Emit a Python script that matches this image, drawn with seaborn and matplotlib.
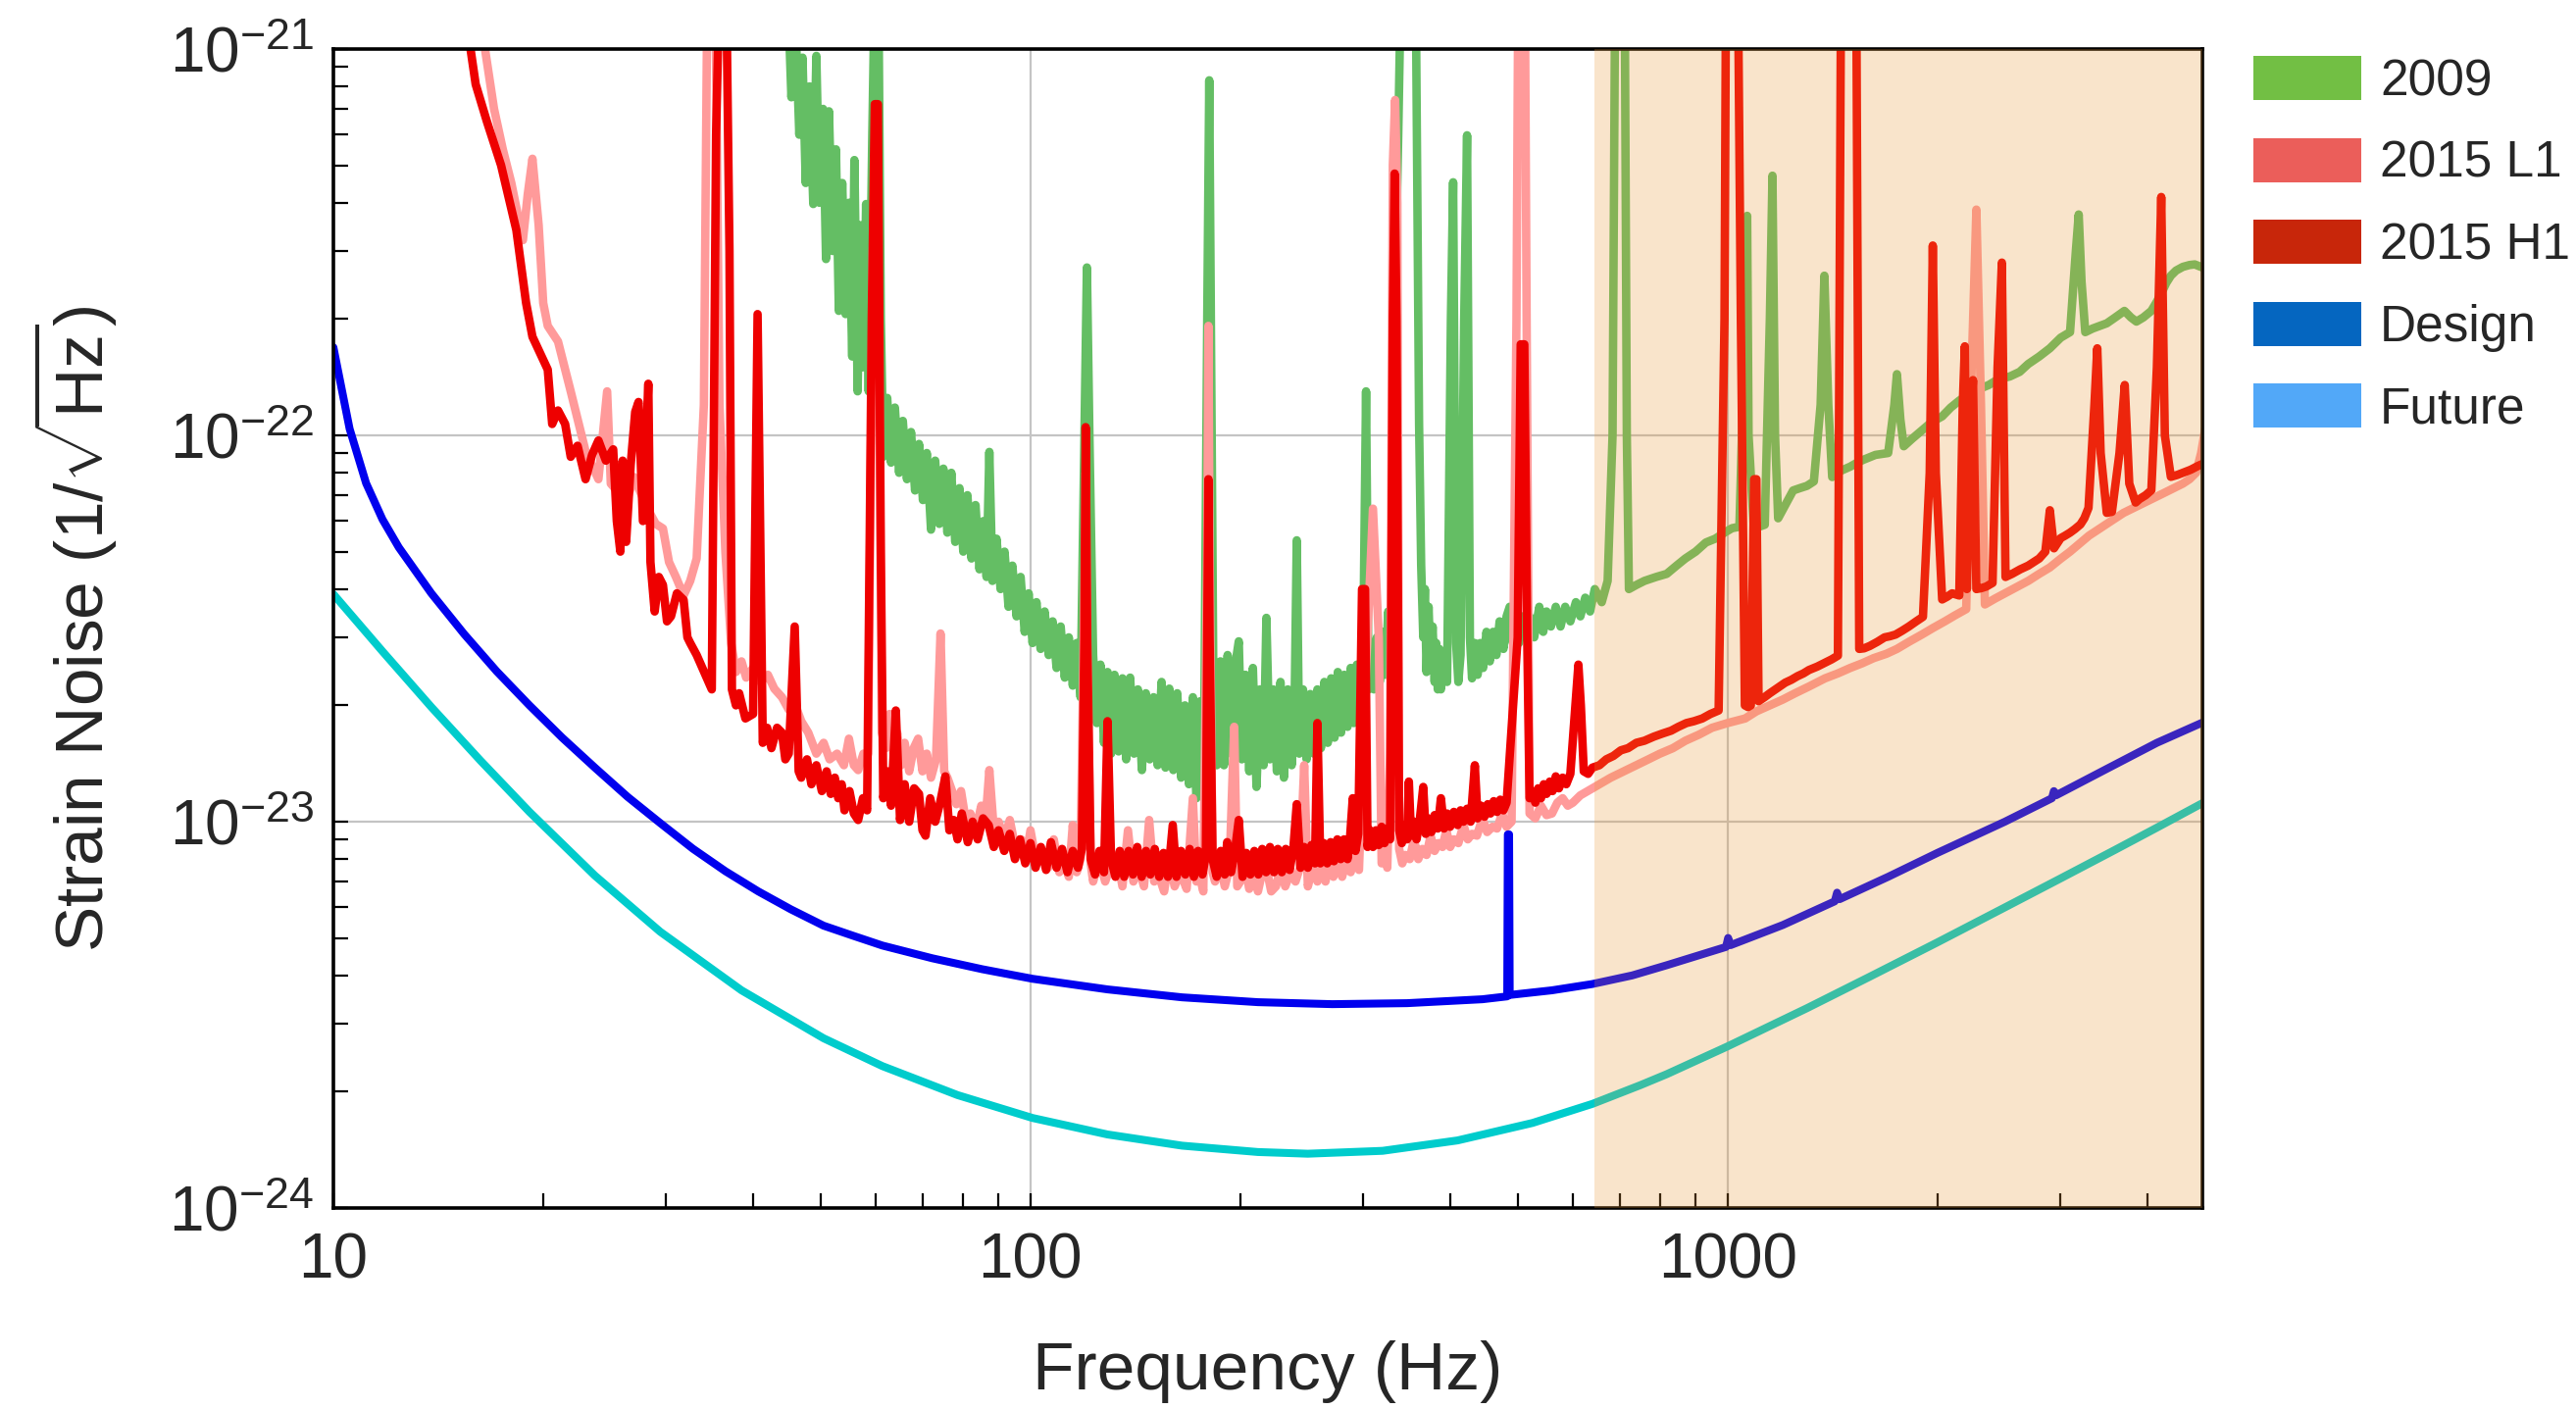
import numpy as np
import pandas as pd
import matplotlib
matplotlib.use("Agg")
import matplotlib.pyplot as plt
import seaborn as sns
from matplotlib.patches import Patch
from matplotlib.ticker import LogLocator, NullFormatter, FixedLocator, FixedFormatter

# strain values below are in units of 1e-23 / sqrt(Hz)
STRAIN_UNIT = 1e-23

# (frequency Hz, strain)
s6_2009 = [
    (43.5, 150), (44.2, 110), (44.8, 150), (45.4, 75), (46.0, 120), (46.6, 60), (47.1, 95),
    (47.6, 45), (48.2, 80), (48.8, 39.7), (49.3, 96), (49.8, 40), (50.4, 70), (50.9, 28.6),
    (51.4, 69), (52.0, 30), (52.6, 55), (53.1, 21), (53.7, 45), (54.3, 20.6), (54.9, 40),
    (55.5, 16), (55.9, 51.6), (56.5, 13.0), (57.0, 35), (57.6, 15), (58.1, 39.7), (58.6, 13),
    (59.3, 60), (59.8, 150), (60.5, 150), (61.0, 20),
    (61.5, 8.8), (62.3, 12.5), (63.1, 8.5), (63.9, 11.8), (64.8, 8.0), (65.6, 10.9),
    (66.5, 7.7), (67.4, 10.2), (68.3, 7.2), (69.2, 9.5), (70.1, 6.8), (71.0, 9.0), (72.0, 5.7),
    (73.0, 8.6), (74.0, 5.9), (75.0, 8.2), (76.0, 5.6), (77.0, 8.0), (78.0, 5.3), (79.1, 7.3),
    (80.1, 5.0), (81.2, 7.0), (82.3, 4.8), (83.4, 6.6), (84.5, 4.5), (85.6, 6.0), (86.5, 4.3),
    (87.3, 9.06), (88.2, 4.2), (89.4, 5.4), (90.6, 4.0), (91.8, 5.0), (93.0, 3.6), (94.2, 4.6),
    (95.5, 3.4), (96.8, 4.3), (98.1, 3.1), (99.4, 3.9), (100.7, 2.9), (102, 3.7), (103.4, 2.8),
    (104.8, 3.5), (106.2, 2.7), (107.6, 3.3), (109, 2.5), (110.5, 3.2), (112, 2.36),
    (113.5, 3.0), (115, 2.25), (116.5, 2.9), (118, 2.1), (119.5, 10), (120.5, 27.2),
    (121.5, 10), (123, 2.7), (124.5, 1.8), (126, 2.55), (127.5, 1.6), (129, 2.44), (130.5, 1.5),
    (132, 2.4), (133.8, 1.52), (135.5, 2.35), (137.2, 1.45), (139, 2.36), (140.8, 1.5),
    (142.6, 2.2), (144.5, 1.36), (146.4, 2.15), (148.3, 1.45), (150.2, 2.1), (152.2, 1.4),
    (154.2, 2.3), (156.2, 1.38), (158.2, 2.21), (160.3, 1.36), (162.4, 2.15), (164.5, 1.3),
    (166.6, 2.0), (168.8, 1.25), (171, 2.1), (173, 1.15), (175.2, 2.05), (177.3, 1.3),
    (179.3, 20), (180.5, 83), (181.5, 20), (183, 2.2), (185, 1.4), (187.3, 2.6), (189.5, 1.4),
    (191.8, 2.7), (194, 1.5), (196.4, 2.5), (199, 2.93), (201, 1.45), (203.5, 2.4), (206, 1.35),
    (208.5, 2.5), (211, 1.23), (213.5, 2.2), (216, 1.4), (218, 3.37), (220.5, 1.45), (223, 2.2),
    (225.7, 1.35), (228.4, 2.3), (231, 1.3), (234, 2.2), (237, 1.4), (239.5, 2.25), (241, 5.35),
    (243, 1.5), (246, 2.2), (249, 1.45), (252, 2.14), (255, 1.5), (258, 2.2), (261, 1.55),
    (264, 2.3), (267, 1.6), (270, 2.35), (273, 1.65), (276, 2.44), (279, 1.7), (282, 2.4),
    (285, 1.76), (288, 2.5), (291, 1.8), (294, 2.55), (297, 1.9), (300, 2.6), (303, 13.0),
    (305.5, 2.2), (308, 2.9), (311, 2.2), (314, 3.0), (317, 2.3), (320, 3.1), (323, 2.4),
    (326, 3.5), (329, 2.6), (332, 15), (337, 60), (340, 150), (357, 150), (361, 10.7),
    (363.5, 4.6), (366, 3.0), (368, 4.0), (370, 2.44), (372.5, 3.6), (375, 2.5), (377.5, 3.2),
    (380, 2.3), (382, 2.9), (384, 2.2), (386, 2.8), (388, 2.2), (392, 2.7), (396, 2.3),
    (401, 20), (404, 45.2), (408, 2.9), (411, 2.3), (414, 2.7), (419, 20), (423, 59.8),
    (427, 3.0), (430, 2.35), (434, 2.9), (438, 2.4), (442, 2.9), (446, 2.5), (451, 3.1),
    (456, 2.6), (461, 3.1), (466, 2.7), (471, 3.3), (477, 2.8), (482, 3.4), (487, 3.6),
    (492, 2.9), (497, 3.3), (502, 2.9), (508, 3.4), (514, 3.0), (520, 3.4), (528, 3.0),
    (537, 3.6), (544, 3.1), (550, 3.5), (558, 3.2), (567, 3.6), (576, 3.2), (585, 3.6),
    (595, 3.3), (606, 3.7), (615, 3.4), (625, 3.8), (635, 3.5), (645, 4.0), (660, 3.7),
    (673, 4.2), (684, 10), (690, 150), (712, 150), (717, 10), (722, 4.0), (740, 4.1),
    (760, 4.2), (790, 4.3), (818, 4.38), (845, 4.6), (870, 4.8), (900, 5.0), (931, 5.28),
    (960, 5.4), (990, 5.6), (1015, 5.75), (1040, 5.8), (1060, 20), (1067, 37), (1072, 10),
    (1090, 5.9), (1110, 5.8), (1131, 5.87), (1150, 20), (1160, 47), (1170, 10), (1182, 6.1),
    (1210, 6.6), (1242, 7.2), (1270, 7.3), (1300, 7.4), (1330, 7.6), (1360, 12), (1377, 25.9),
    (1395, 12), (1413, 7.8), (1455, 8.1), (1500, 8.3), (1535, 8.5), (1570, 8.66), (1630, 8.9),
    (1700, 9.0), (1735, 12), (1750, 14.4), (1770, 11), (1790, 9.37), (1840, 9.8), (1900, 10.3),
    (1960, 10.8), (2032, 11.2), (2090, 11.8), (2150, 12.3), (2220, 12.8), (2300, 13.2),
    (2370, 13.5), (2450, 14.0), (2540, 14.2), (2625, 14.6), (2700, 15.3), (2800, 16.0),
    (2900, 16.8), (3006, 17.9), (3100, 18.5), (3160, 30), (3190, 37.3), (3220, 25),
    (3260, 18.5), (3340, 18.9), (3420, 19.2), (3500, 19.5), (3600, 20.2), (3710, 21.0),
    (3790, 20.2), (3860, 19.7), (3950, 20.2), (4055, 21.0), (4130, 22.2), (4200, 23.5),
    (4260, 24.8), (4325, 25.9), (4400, 26.7), (4500, 27.3), (4600, 27.6), (4680, 27.7),
    (4850, 27.0),
]

l1_2015 = [
    (16.0, 150), (16.5, 100), (17.0, 70), (17.5, 55), (18.0, 45), (18.7, 32), (19.0, 42),
    (19.3, 52), (19.7, 35), (20.0, 22), (20.3, 19.2), (21.0, 17.5), (21.9, 13.0), (23.0, 9.1),
    (24.0, 7.7), (24.7, 13.0), (25.0, 7.5), (25.5, 7.2), (26.0, 8.0), (26.5, 7.0), (27.0, 7.8),
    (27.5, 7.2), (28.3, 6.4), (29.0, 5.9), (29.7, 5.74), (30.3, 4.7), (31.0, 4.3), (31.8, 3.85),
    (32.5, 4.2), (33.2, 4.8), (34.0, 12), (34.4, 150), (35.3, 150), (35.8, 12), (36.5, 5),
    (37.2, 2.9), (37.8, 2.44), (38.5, 2.6), (39.1, 2.36), (40.0, 2.5), (41.0, 2.3),
    (42.0, 2.4), (42.9, 2.21), (44.0, 2.1), (45.0, 1.95), (46.0, 2.0), (46.9, 1.82),
    (48.0, 1.7), (49.3, 1.5), (50.5, 1.6), (51.5, 1.45), (52.8, 1.5), (54.0, 1.4), (54.9, 1.64),
    (55.8, 1.4), (56.6, 1.36), (57.6, 1.5), (58.5, 1.5), (59.4, 30), (60.0, 50), (60.6, 20),
    (61.2, 1.7), (62.0, 1.55), (62.8, 1.9), (63.6, 1.5), (64.4, 1.7), (65.2, 1.4), (66.0, 1.6),
    (67.0, 1.35), (68.0, 1.55), (69.0, 1.64), (70.0, 1.35), (71.0, 1.5), (72.0, 1.3),
    (73.2, 1.45), (74.3, 3.07), (75.2, 1.35), (76.0, 1.3), (77.2, 1.2), (78.3, 1.11),
    (79.5, 1.2), (80.8, 1.0), (82.0, 1.05), (83.5, 0.95), (85.0, 1.1), (86.2, 1.0),
    (87.3, 1.36), (88.6, 0.95), (90.0, 1.0), (91.7, 0.9), (93.4, 1.01), (95.2, 0.85),
    (97.0, 0.9), (98.5, 0.8), (100, 0.95), (102, 0.78), (104, 0.82), (106, 0.76), (108, 0.9),
    (110, 0.74), (112, 0.78), (113.5, 0.72), (115, 0.98), (116.5, 0.74), (118, 0.8),
    (119.5, 4), (120, 8), (120.6, 3), (122, 0.78), (123, 0.7), (125.5, 0.8), (128, 0.7),
    (130.5, 0.78), (133, 0.82), (135.5, 0.68), (138, 0.95), (140.5, 0.7), (143, 0.76),
    (145.5, 0.68), (148, 1.01), (150.5, 0.7), (153, 0.72), (155.5, 0.66), (158, 0.8),
    (161, 0.68), (164, 0.74), (167.5, 0.67), (171, 1.15), (173, 0.7), (175, 0.72), (177, 0.66),
    (179.3, 5), (180, 19.2), (180.7, 5), (182.5, 0.74), (184, 0.7), (187, 0.78), (190, 0.68),
    (193, 0.76), (196, 1.76), (198, 0.68), (200, 0.7), (203, 0.78), (206, 0.67), (209, 0.75),
    (212, 0.66), (215, 0.74), (218, 0.76), (221.5, 0.66), (225, 0.68), (228.5, 0.76),
    (232, 0.68), (236, 0.74), (240, 0.7), (243.5, 0.76), (247, 1.4), (250, 0.68), (252, 0.72),
    (255, 0.8), (258, 0.7), (261.5, 0.78), (265, 0.7), (268.5, 0.8), (272, 0.72), (276, 0.78),
    (280, 0.72), (284, 0.8), (288, 0.74), (292, 0.82), (296, 0.75), (303, 2.5), (310, 6.46),
    (316, 3), (319, 0.78), (322, 0.82), (325, 0.76), (328, 1.5), (331, 50), (333.5, 73.8),
    (336, 40), (338, 0.85), (341.5, 0.78), (345, 0.82), (350, 0.8), (355, 0.9), (360, 0.8),
    (365, 0.85), (370, 0.82), (375, 0.92), (380, 0.84), (385, 0.88), (390, 0.86),
    (395, 0.95), (400, 0.86), (405, 0.9), (411, 0.88), (418, 0.98), (424, 0.9), (430, 0.93),
    (437, 0.92), (445, 1.02), (452, 0.94), (460, 0.97), (467, 0.96), (475, 1.05), (482, 0.97),
    (490, 1.0), (498, 20), (501, 150), (512, 150), (515, 20), (520, 1.05), (530, 1.02),
    (540, 1.1), (550, 1.04), (560, 1.05), (570, 1.12), (580, 1.15), (590, 1.1), (600, 1.12),
    (615, 1.17), (630, 1.2), (655, 1.25), (680, 1.3), (710, 1.35), (740, 1.4), (770, 1.45),
    (800, 1.5), (835, 1.55), (870, 1.62), (910, 1.68), (950, 1.75), (1000, 1.8), (1060, 1.85),
    (1100, 1.93), (1150, 2.0), (1200, 2.07), (1250, 2.15), (1310, 2.24), (1380, 2.35),
    (1440, 2.42), (1500, 2.5), (1560, 2.57), (1620, 2.65), (1690, 2.72), (1750, 2.8),
    (1820, 2.92), (1900, 3.05), (1970, 3.17), (2050, 3.3), (2120, 3.42), (2200, 3.55),
    (2240, 15), (2275, 38.4), (2310, 12), (2340, 3.65), (2420, 3.78), (2500, 3.9),
    (2600, 4.05), (2700, 4.2), (2800, 4.38), (2900, 4.55), (3000, 4.78), (3100, 5.0),
    (3200, 5.25), (3300, 5.5), (3400, 5.7), (3500, 5.9), (3600, 6.1), (3700, 6.3),
    (3800, 6.45), (3900, 6.6), (4000, 6.75), (4100, 6.9), (4200, 7.05), (4300, 7.2),
    (4400, 7.35), (4500, 7.5), (4600, 7.7), (4700, 8.0), (4780, 9.0), (4850, 10.5),
]

h1_2015 = [
    (15.5, 120), (16.0, 81), (16.6, 65), (17.4, 50), (18.3, 34), (18.9, 22), (19.3, 18),
    (20.3, 14.8), (20.6, 10.7), (21.0, 11.6), (21.5, 10.7), (21.9, 8.8), (22.4, 9.4),
    (23.0, 7.7), (23.5, 8.9), (24.0, 9.7), (24.6, 8.6), (25.2, 9.2), (25.5, 6.0), (25.8, 5.0),
    (26.0, 8.6), (26.3, 5.3), (26.7, 8.4), (27.1, 11.5), (27.4, 12.2), (27.8, 6.0),
    (28.3, 13.6), (28.5, 4.7), (28.9, 3.5), (29.3, 4.3), (29.7, 4.1), (30.1, 3.3), (30.5, 3.4),
    (31.1, 3.9), (31.8, 3.75), (32.2, 3.0), (32.5, 2.9), (33.2, 2.7), (34.0, 2.45),
    (34.9, 2.2), (35.4, 60), (35.8, 150), (36.6, 150), (37.0, 30), (37.3, 2.2), (37.8, 2.0),
    (38.2, 2.15), (39.0, 1.85), (40.0, 1.9), (40.6, 20.6), (41.3, 1.6), (41.9, 1.75),
    (42.5, 1.55), (43.3, 1.75), (44.0, 1.7), (44.5, 1.45), (45.0, 1.5), (45.9, 3.2),
    (46.5, 1.35), (46.9, 1.3), (47.8, 1.45), (48.5, 1.25), (49.3, 1.4), (50.2, 1.2),
    (51.0, 1.35), (51.7, 1.18), (52.4, 1.3), (53.0, 1.15), (53.6, 1.25), (54.1, 1.07),
    (55.0, 1.2), (55.8, 1.05), (56.6, 1.01), (57.5, 1.15), (58.3, 1.07), (59.2, 20),
    (59.8, 72), (60.4, 72), (61.0, 5), (61.5, 1.15), (62.3, 1.35), (63.1, 1.1), (64.1, 1.94),
    (65.0, 1.01), (66.0, 1.25), (67.0, 1.0), (68.1, 1.22), (69.2, 1.18), (70.0, 0.95),
    (70.7, 0.92), (71.8, 1.15), (73.0, 1.0), (74.2, 1.12), (75.5, 1.31), (76.5, 0.95),
    (77.6, 1.01), (78.6, 0.9), (79.7, 1.05), (81.3, 0.885), (82.6, 1.0), (84.0, 0.9),
    (85.5, 1.02), (87.1, 0.98), (88.6, 0.86), (90.0, 0.95), (91.7, 0.84), (93.4, 0.93),
    (95.0, 0.8), (96.6, 0.9), (98.3, 0.78), (100, 0.88), (101.7, 0.76), (103.5, 0.86),
    (105.3, 0.75), (107, 0.885), (109, 0.76), (111, 0.85), (113, 0.74), (115, 0.84),
    (117, 0.76), (118.5, 0.85), (119.5, 3), (120.0, 10.5), (120.6, 3), (122, 0.8),
    (123.8, 0.73), (125.6, 0.84), (127.5, 0.74), (129, 1.82), (130.5, 0.8), (132.4, 0.72),
    (134.3, 0.84), (136.3, 0.72), (138.3, 0.84), (140.3, 0.73), (142.3, 0.86), (144.4, 0.72),
    (146.5, 0.84), (148.6, 0.73), (150.8, 0.85), (153, 0.72), (155.2, 0.83), (157.5, 0.72),
    (160, 0.98), (162, 0.72), (164.4, 0.84), (166.8, 0.73), (169.2, 0.85), (171.6, 0.72),
    (174, 0.84), (176.5, 0.73), (178.5, 0.82), (179.3, 3), (180, 7.7), (180.7, 3),
    (182.5, 0.8), (185, 0.72), (187.5, 0.84), (190, 0.73), (191.5, 0.885), (194, 0.74),
    (196.5, 0.84), (199, 1.01), (201.5, 0.72), (204, 0.83), (206.8, 0.73), (209.5, 0.84),
    (212.3, 0.73), (215, 0.85), (217.8, 0.74), (220.6, 0.86), (223.5, 0.74), (226.4, 0.85),
    (229.4, 0.74), (232.4, 0.85), (235.4, 0.75), (238.4, 0.86), (241, 1.11), (244, 0.76),
    (247, 0.86), (250, 0.76), (253, 0.87), (256, 0.78), (258, 1.8), (260.5, 0.78),
    (263.5, 0.88), (266.5, 0.78), (269.5, 0.885), (272.5, 0.79), (275.6, 0.9), (278.7, 0.8),
    (281.8, 0.9), (285, 0.8), (287.5, 0.92), (290, 1.15), (292.6, 0.84), (295.3, 0.93),
    (299, 4.0), (302, 4.0), (304.5, 0.86), (307, 0.95), (310, 0.86), (313, 0.95), (316, 0.87),
    (319, 0.97), (322, 0.88), (325, 0.96), (328, 0.9), (331, 20), (333, 47.6), (335, 20),
    (338, 0.95), (341, 0.88), (344, 0.98), (347, 0.9), (349, 1.27), (351.5, 0.92),
    (355, 1.0), (358, 0.9), (362, 1.02), (366, 1.23), (369, 0.93), (372, 1.02), (376, 0.94),
    (380, 1.04), (384, 0.96), (388, 1.15), (392, 0.96), (396, 1.05), (400, 0.97),
    (405, 1.06), (410, 0.98), (414, 1.07), (418, 1.0), (423, 1.08), (428, 1.0), (434, 1.4),
    (438, 1.02), (443, 1.1), (448, 1.03), (453, 1.11), (457, 1.05), (462, 1.13),
    (467, 1.06), (472, 1.14), (477, 1.07), (482, 1.12), (500, 3), (505, 17.2), (511, 17.2),
    (516, 3), (520, 1.15), (525, 1.2), (530, 1.12), (535, 1.22), (540, 1.15), (545, 1.25),
    (550, 1.18), (556, 1.27), (561, 1.2), (567, 1.31), (573, 1.22), (580, 1.3), (587, 1.25),
    (595, 1.33), (605, 2.0), (611, 2.55), (616, 2.0), (622, 1.35), (631, 1.33), (640, 1.38),
    (655, 1.4), (670, 1.45), (686, 1.48), (703, 1.53), (720, 1.55), (740, 1.6), (760, 1.62),
    (784, 1.66), (806, 1.69), (830, 1.72), (850, 1.76), (873, 1.8), (895, 1.82),
    (920, 1.85), (945, 1.9), (971, 1.94), (990, 20), (995, 150), (1035, 150), (1045, 20),
    (1059, 2.0), (1070, 1.98), (1080, 2.0), (1092, 7.7), (1100, 7.7), (1108, 2.05),
    (1130, 2.1), (1150, 2.15), (1180, 2.22), (1210, 2.29), (1235, 2.33), (1260, 2.38),
    (1285, 2.42), (1309, 2.47), (1345, 2.52), (1380, 2.58), (1410, 2.63), (1440, 2.69),
    (1455, 150), (1530, 150), (1545, 2.8), (1570, 2.81), (1600, 2.85), (1640, 2.92),
    (1680, 3.0), (1710, 3.02), (1742, 3.05), (1780, 3.12), (1820, 3.2), (1865, 3.3),
    (1907, 3.39), (1950, 8), (1970, 31), (1990, 8), (2032, 3.76), (2065, 3.82), (2100, 3.9),
    (2150, 3.85), (2175, 12), (2190, 17.0), (2205, 4.0), (2225, 10), (2250, 13.9),
    (2275, 4.0), (2310, 4.02), (2350, 4.06), (2400, 4.15), (2440, 15), (2475, 28.0),
    (2505, 4.3), (2560, 4.38), (2630, 4.5), (2700, 4.6), (2750, 4.7), (2800, 4.8),
    (2857, 5.0), (2900, 6.4), (2940, 5.1), (3006, 5.42), (3050, 5.5), (3100, 5.6),
    (3150, 5.72), (3208, 5.88), (3250, 6.1), (3295, 6.49), (3360, 12), (3392, 16.8),
    (3430, 9), (3500, 6.3), (3560, 6.34), (3650, 9), (3714, 13.5), (3770, 7.5), (3850, 6.7),
    (3899, 6.84), (3980, 7.0), (4055, 7.21), (4130, 15), (4190, 41.4), (4240, 10),
    (4325, 7.81), (4420, 7.9), (4500, 8.0), (4620, 8.15), (4735, 8.34), (4850, 8.5),
]

design = [
    (10, 16.9), (10.55, 10.4), (11.14, 7.52), (11.76, 6.06), (12.41, 5.13), (13.82, 3.90),
    (15.40, 3.06), (17.15, 2.45), (19.11, 2.00), (21.29, 1.65), (23.72, 1.38), (26.42, 1.16),
    (29.43, 0.992), (32.79, 0.851), (36.52, 0.744), (40.69, 0.660), (45.32, 0.593),
    (50.49, 0.538), (55.6, 0.507), (61.3, 0.478), (72.3, 0.443), (85.3, 0.415),
    (100.7, 0.392), (129, 0.368), (165, 0.351), (212, 0.341), (271, 0.337), (347, 0.339),
    (445, 0.347), (483, 0.353), (484, 0.927), (486, 0.927), (487, 0.356), (560, 0.366),
    (640, 0.380), (730, 0.400), (818, 0.425), (995, 0.474), (1002, 0.50), (1010, 0.479),
    (1200, 0.54), (1425, 0.622), (1436, 0.655), (1448, 0.63), (1700, 0.72), (2000, 0.83),
    (2500, 1.0), (2920, 1.15), (2939, 1.2), (2960, 1.17), (3500, 1.37), (4130, 1.6),
    (4850, 1.82),
]

future = [
    (10, 3.88), (11.76, 2.76), (13.82, 1.98), (16.25, 1.44), (19.11, 1.06), (23.72, 0.725),
    (29.43, 0.519), (38.5, 0.366), (50.49, 0.275), (61.3, 0.233), (78.6, 0.196),
    (100.7, 0.171), (129, 0.155), (165, 0.145), (212, 0.1396), (250, 0.1382), (320, 0.1406),
    (410, 0.1496), (525, 0.166), (640, 0.186), (750, 0.208), (818, 0.222), (1000, 0.262),
    (1300, 0.329), (1600, 0.397), (2000, 0.487), (2500, 0.600), (3000, 0.712), (3600, 0.846),
    (4130, 0.965), (4850, 1.128),
]

# upgrade band (shaded), Hz
band = (645, 4800)

# legend entries
legend_labels = ["2009", "2015 L1", "2015 H1", "Design", "Future"]
legend_colors = ["#72BF44", "#EB5E5A", "#C8260A", "#0566C0", "#52A8F8"]

curves = [
    (s6_2009, "#64BE64", 3.1),
    (l1_2015, "#FF9A9A", 3.1),
    (h1_2015, "#EE0000", 3.1),
    (design, "#0000EE", 2.9),
    (future, "#00CCCC", 2.9),
]

sns.set_style("white")
plt.rcParams["font.family"] = ["Liberation Sans", "DejaVu Sans"]
plt.rcParams["mathtext.fontset"] = "custom"
plt.rcParams["mathtext.rm"] = "Liberation Sans"
plt.rcParams["mathtext.it"] = "Liberation Sans:italic"
plt.rcParams["mathtext.bf"] = "Liberation Sans:bold"

W, H = 2627, 1437
fig = plt.figure(figsize=(W / 200, H / 200), dpi=200)
ax = fig.add_axes([340 / W, 1 - 1232 / H, (2246 - 340) / W, (1232 - 50) / H])

for pts, color, lw in curves:
    df = pd.DataFrame(pts, columns=["freq", "strain"])
    df["strain"] = df["strain"] * STRAIN_UNIT
    sns.lineplot(data=df, x="freq", y="strain", ax=ax, color=color, linewidth=lw,
                 estimator=None, sort=False)

ax.axvspan(band[0], band[1], color=(235 / 255, 150 / 255, 50 / 255), alpha=0.25,
           lw=0, zorder=5)

ax.set_xscale("log")
ax.set_yscale("log")
ax.set_xlim(10, 4800)
ax.set_ylim(1e-24, 1e-21)

ax.xaxis.set_major_locator(FixedLocator([10, 100, 1000]))
ax.xaxis.set_major_formatter(FixedFormatter(["10", "100", "1000"]))
ax.xaxis.set_minor_locator(LogLocator(base=10, subs=np.arange(2, 10)))
ax.xaxis.set_minor_formatter(NullFormatter())
ax.yaxis.set_major_locator(FixedLocator([1e-24, 1e-23, 1e-22, 1e-21]))
ax.yaxis.set_major_formatter(FixedFormatter([r"$10^{-24}$", r"$10^{-23}$",
                                             r"$10^{-22}$", r"$10^{-21}$"]))
ax.yaxis.set_minor_locator(LogLocator(base=10, subs=np.arange(2, 10), numticks=20))
ax.yaxis.set_minor_formatter(NullFormatter())

ax.tick_params(axis="both", which="both", direction="in", length=5.4, width=0.8,
               color="black", top=False, right=False, bottom=True, left=True)
ax.tick_params(axis="x", which="major", labelsize=23, pad=9)
ax.tick_params(axis="y", which="major", labelsize=23, pad=7)

ax.grid(True, which="major", color="#c4c4c4", lw=0.8)
ax.set_axisbelow(True)
for sp in ax.spines.values():
    sp.set_color("black")
    sp.set_linewidth(1.3)

ax.set_xlabel("Frequency (Hz)", fontsize=25, labelpad=18)
ax.set_ylabel(r"Strain Noise $(1/\sqrt{\mathrm{Hz}})$", fontsize=25, labelpad=18)

handles = [Patch(facecolor=c, edgecolor="none", label=l)
           for l, c in zip(legend_labels, legend_colors)]
fig.legend(handles=handles, loc="upper left", bbox_to_anchor=(2298 / W, 1 - 57 / H),
           frameon=False, fontsize=18.5, handlelength=2.14, handleheight=0.97,
           handletextpad=0.37, labelspacing=0.63, borderpad=0, borderaxespad=0)

fig.savefig("out.png", dpi=200)
